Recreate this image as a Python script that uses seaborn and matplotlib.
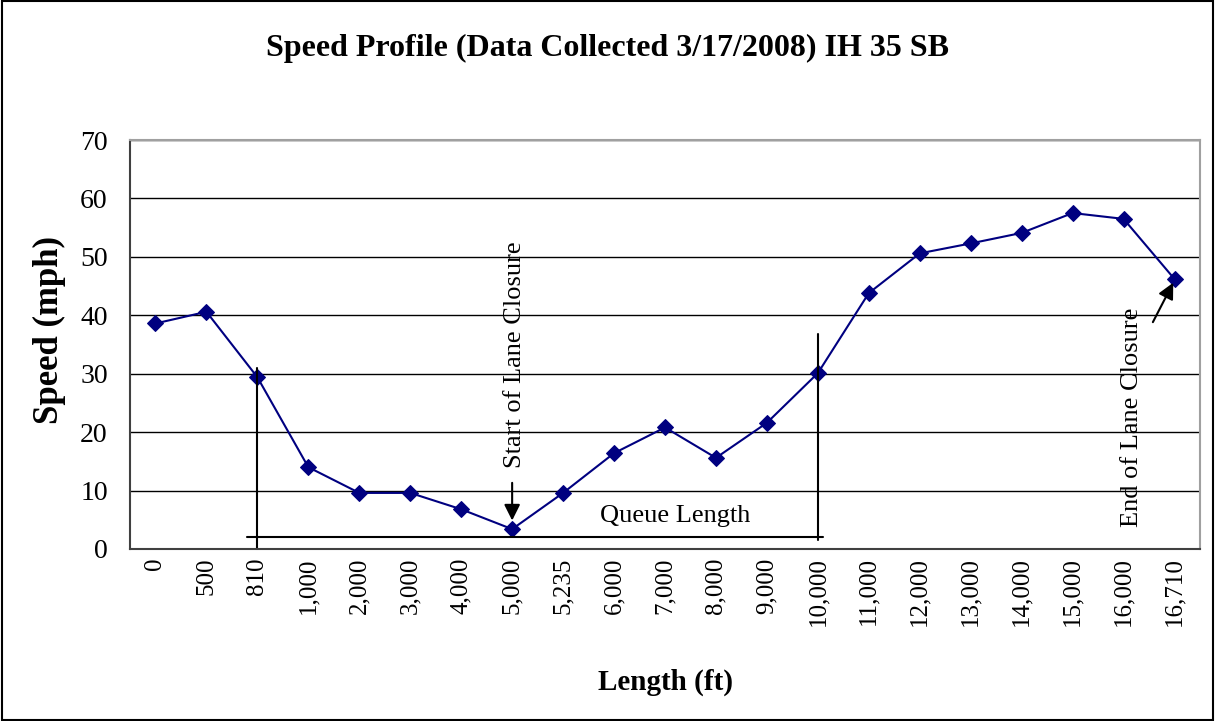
import numpy as np
import matplotlib
matplotlib.use("Agg")
import matplotlib.pyplot as plt
import seaborn as sns
from matplotlib.patches import Rectangle

# data
lengths = ["0", "500", "810", "1,000", "2,000", "3,000", "4,000", "5,000", "5,235",
           "6,000", "7,000", "8,000", "9,000", "10,000", "11,000", "12,000", "13,000",
           "14,000", "15,000", "16,000", "16,710"]
speeds = [38.6, 40.6, 29.4, 14.0, 9.6, 9.6, 6.8, 3.4, 9.6, 16.4, 20.8, 15.6, 21.6,
          30.1, 43.8, 50.6, 52.3, 54.1, 57.5, 56.5, 46.2]

sns.set_style("white")
plt.rcParams["font.family"] = ["Liberation Serif", "DejaVu Serif"]
plt.rcParams["text.color"] = "black"
plt.rcParams["axes.labelcolor"] = "black"

fig = plt.figure(figsize=(12.15, 7.21), dpi=100)
ax = fig.add_axes([130 / 1215, 172 / 721, 1070 / 1215, 409 / 721])

pos = np.arange(len(lengths))
sns.lineplot(x=pos, y=speeds, ax=ax, color="#000080", linewidth=1.5,
             marker="D", markersize=8, markeredgecolor="#000080")

ax.set_xlim(-0.5, len(lengths) - 0.5)
ax.set_ylim(0, 70)
ax.set_yticks(range(0, 71, 10))
ax.yaxis.grid(True, color="black", linewidth=1)
ax.set_axisbelow(True)

ax.set_xticks(pos)
ax.set_xticklabels(lengths, rotation=90, fontsize=18)
ax.set_xticks(np.arange(-0.5, len(lengths)), minor=True)
ax.tick_params(axis="x", which="major", length=0, pad=6, labelcolor="black")
ax.tick_params(axis="x", which="minor", length=7, width=1, color="#404040", direction="out")
ax.tick_params(axis="y", length=7, width=1, color="#404040", direction="out",
               labelsize=20, pad=9, labelcolor="black")

for side in ["left", "bottom"]:
    ax.spines[side].set_color("#404040")
    ax.spines[side].set_linewidth(1.5)
for side in ["top", "right"]:
    ax.spines[side].set_color("#a0a0a0")
    ax.spines[side].set_linewidth(1.5)

fig.text(0.5, 1 - 48 / 721, "Speed Profile (Data Collected 3/17/2008) IH 35 SB",
         fontsize=23, fontweight="bold", ha="center", va="center")
ax.set_xlabel("Length (ft)", fontsize=21, fontweight="bold")
ax.xaxis.set_label_coords(0.5, -0.293)
ax.set_ylabel("Speed (mph)", fontsize=25, fontweight="bold")
ax.yaxis.set_label_coords(-0.06, 0.535)

# queue length bracket
ax.plot([2, 2], [0, 30.9], color="black", linewidth=1.5, clip_on=False)
ax.plot([13, 13], [1.5, 36.8], color="black", linewidth=1.5)
ax.plot([1.8, 13.1], [2.0, 2.0], color="black", linewidth=1.5)
ax.text(10.2, 5.7, "Queue Length", ha="center", va="center", fontsize=19)

# lane closure annotations
ax.text(7.06, 13.9, "Start of Lane Closure", rotation=90, ha="center", va="bottom", fontsize=19)
ax.annotate("", xy=(7.0, 4.4), xytext=(7.0, 11.8),
            arrowprops=dict(arrowstyle="-|>", color="black", lw=1.5, mutation_scale=24))
ax.text(19.16, 3.8, "End of Lane Closure", rotation=90, ha="center", va="bottom", fontsize=19)
ax.annotate("", xy=(20.0, 46.0), xytext=(19.55, 38.4),
            arrowprops=dict(arrowstyle="-|>", color="black", lw=1.5, mutation_scale=24))

fig.patches.append(Rectangle((0.002, 0.002), 0.996, 0.996, transform=fig.transFigure,
                             fill=False, edgecolor="black", linewidth=1.5))

fig.savefig("out.png", dpi=100)
